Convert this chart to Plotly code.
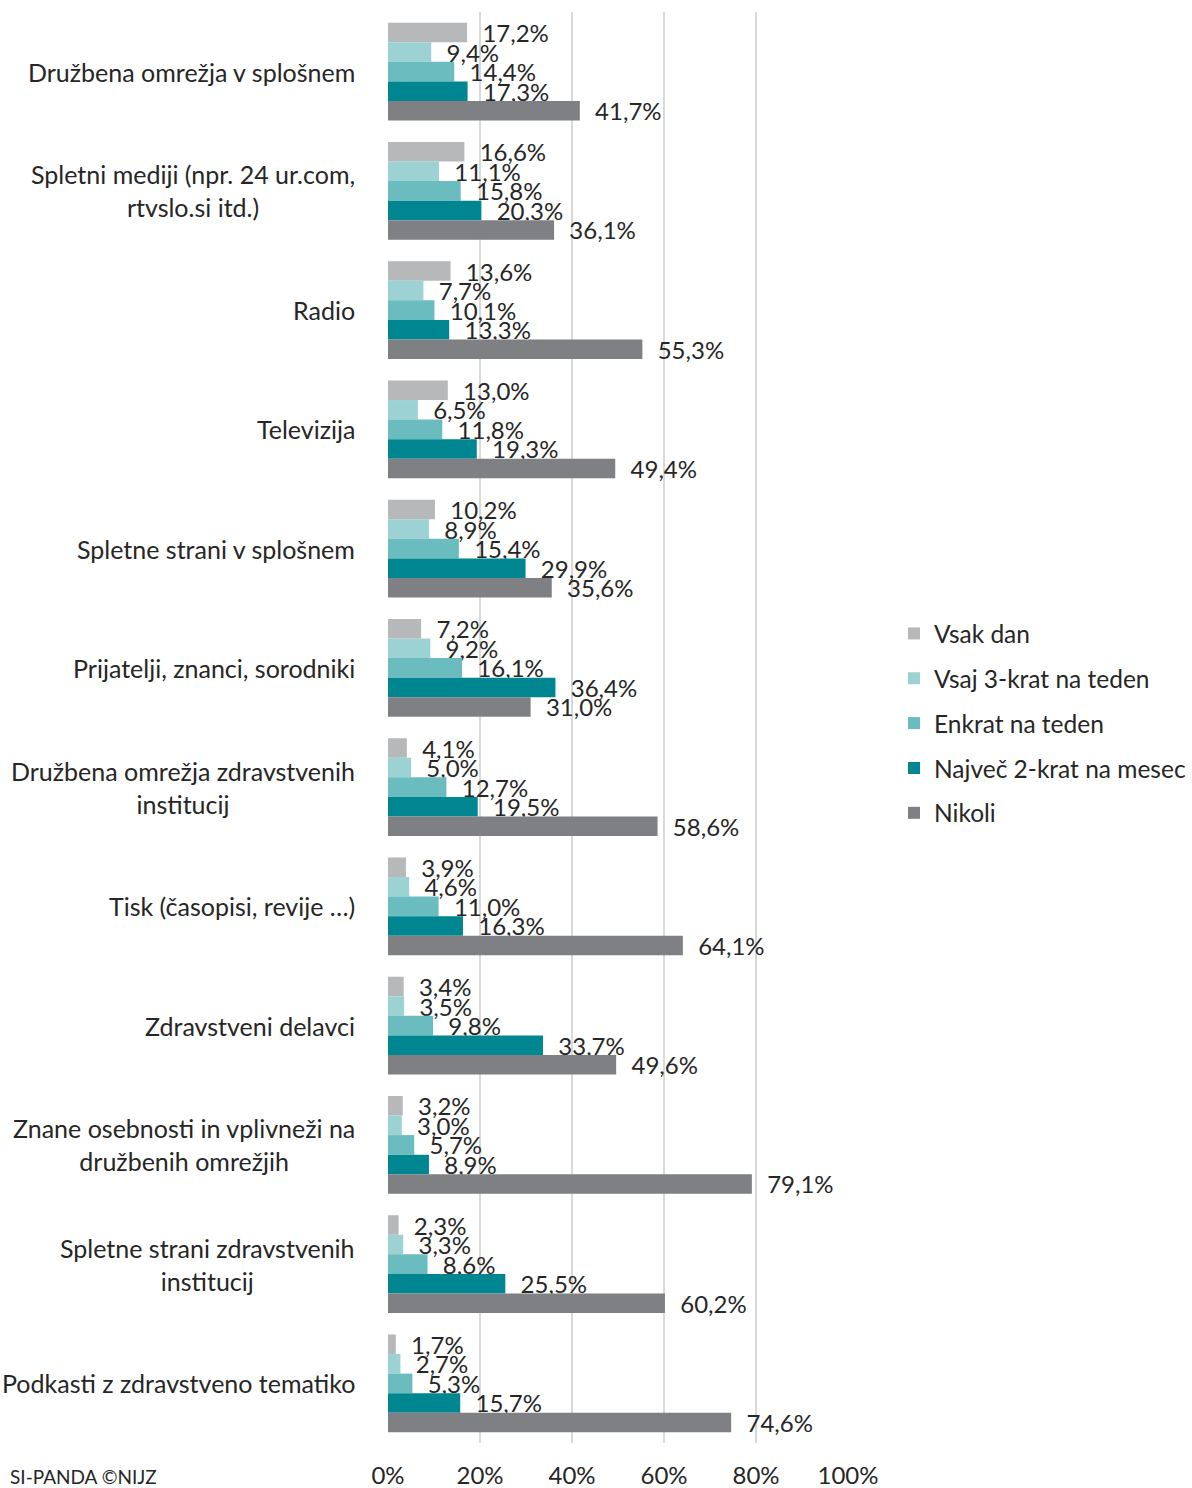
import plotly.graph_objects as go

categories = [
    "Družbena omrežja v splošnem",
    "Spletni mediji (npr. 24 ur.com,<br>rtvslo.si itd.)",
    "Radio",
    "Televizija",
    "Spletne strani v splošnem",
    "Prijatelji, znanci, sorodniki",
    "Družbena omrežja zdravstvenih<br>institucij",
    "Tisk (časopisi, revije …)",
    "Zdravstveni delavci",
    "Znane osebnosti in vplivneži na<br>družbenih omrežjih",
    "Spletne strani zdravstvenih<br>institucij",
    "Podkasti z zdravstveno tematiko",
]

series_names = ["Vsak dan", "Vsaj 3-krat na teden", "Enkrat na teden",
                "Največ 2-krat na mesec", "Nikoli"]

vsak_dan = [17.2, 16.6, 13.6, 13.0, 10.2, 7.2, 4.1, 3.9, 3.4, 3.2, 2.3, 1.7]
vsaj_3krat = [9.4, 11.1, 7.7, 6.5, 8.9, 9.2, 5.0, 4.6, 3.5, 3.0, 3.3, 2.7]
enkrat = [14.4, 15.8, 10.1, 11.8, 15.4, 16.1, 12.7, 11.0, 9.8, 5.7, 8.6, 5.3]
najvec_2krat = [17.3, 20.3, 13.3, 19.3, 29.9, 36.4, 19.5, 16.3, 33.7, 8.9, 25.5, 15.7]
nikoli = [41.7, 36.1, 55.3, 49.4, 35.6, 31.0, 58.6, 64.1, 49.6, 79.1, 60.2, 74.6]

tick_vals = [0, 20, 40, 60, 80, 100]
tick_text = ["0%", "20%", "40%", "60%", "80%", "100%"]

series_values = [vsak_dan, vsaj_3krat, enkrat, najvec_2krat, nikoli]
colors = ["#b7b8ba", "#9dd2d4", "#6bbcbf", "#008691", "#7f8083"]

FONT = "Lato"
TXT = "#262626"

fig = go.Figure()
for i, (name, vals, col) in enumerate(zip(series_names, series_values, colors)):
    fig.add_trace(go.Bar(
        y=categories, x=vals, name=name, orientation="h",
        marker=dict(color=col, line=dict(width=0)),
        texttemplate="\u00a0\u00a0%{x:.1f}%",
        textposition="outside",
        constraintext="none",
        cliponaxis=False,
        textfont=dict(family=FONT, size=24, color=TXT),
        legendgroup=f"g{i}",
    ))

W, H = 1192, 1488
L, R, T, B = 388, W - 848, 12, H - 1443
PW, PH = W - L - R, H - T - B

annotations = []
for c in categories:
    annotations.append(dict(
        x=(357 - L) / PW, xref="paper", y=c, yref="y",
        text=c, showarrow=False, xanchor="right", yanchor="middle", align="center",
        font=dict(family=FONT, size=25, color=TXT),
    ))
annotations.append(dict(
    x=(8 - L) / PW, xref="paper", y=-(1476 - 1443) / PH, yref="paper",
    text="SI-PANDA ©NIJZ", showarrow=False, xanchor="left", yanchor="middle",
    font=dict(family=FONT, size=19, color=TXT),
))

fig.update_layout(
    width=W, height=H,
    margin=dict(l=L, r=R, t=T, b=B, autoexpand=False),
    paper_bgcolor="white", plot_bgcolor="white",
    barmode="group", bargap=0.18, bargroupgap=0,
    separators=", ",
    font=dict(family=FONT, color=TXT),
    xaxis=dict(range=[0, 100], tickvals=tick_vals, ticktext=tick_text,
               showgrid=True, gridcolor="#d9d9d9", gridwidth=2,
               zeroline=False, showline=False,
               tickfont=dict(family=FONT, size=24, color=TXT),
               ticklabelstandoff=16, fixedrange=True),
    yaxis=dict(autorange="reversed", showticklabels=False, showgrid=False,
               zeroline=False, showline=False, fixedrange=True),
    legend=dict(x=894 / W, xref="container", y=(H - 611) / H, yref="container",
                xanchor="left", yanchor="top",
                font=dict(family=FONT, size=24.5, color=TXT),
                tracegroupgap=10, traceorder="grouped",
                itemwidth=30, bgcolor="rgba(0,0,0,0)"),
    annotations=annotations,
    showlegend=True,
)

fig.write_html("out.html")
